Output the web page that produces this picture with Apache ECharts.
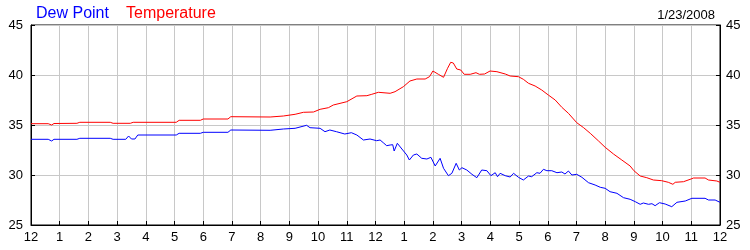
<!DOCTYPE html>
<html>
<head>
<meta charset="utf-8">
<script src="https://cdn.jsdelivr.net/npm/echarts@6/dist/echarts.min.js"></script>
<style>
html,body{margin:0;padding:0;background:#fff;}
#c{width:750px;height:250px;}
</style>
</head>
<body>
<div id="c"></div>
<script>
const hourLabels = ['12','1','2','3','4','5','6','7','8','9','10','11','12','1','2','3','4','5','6','7','8','9','10','11','12'];
const yTicks = [25, 30, 35, 40, 45];

const tempHours = [0,0.6,0.66,0.72,0.8,1.6,1.7,2.76,2.86,3.46,3.56,5.06,5.16,5.9,6.0,6.86,6.96,8.33,8.79,9.2,9.49,9.84,10.07,10.36,10.53,11.0,11.35,11.7,11.87,12.1,12.51,12.68,12.97,13.2,13.44,13.73,13.88,14.0,14.19,14.37,14.51,14.62,14.71,14.83,14.97,15.09,15.3,15.5,15.62,15.8,15.99,16.23,16.52,16.69,16.98,17.15,17.33,17.56,17.79,18.02,18.26,18.49,18.72,19.01,19.25,19.48,19.77,20.0,20.29,20.58,20.87,21.0,21.22,21.45,21.68,21.97,22.2,22.36,22.44,22.73,22.99,23.08,23.48,23.6,23.89,24.0];
const tempValues = [35.13,35.13,35.05,35.0,35.15,35.17,35.27,35.27,35.17,35.17,35.27,35.27,35.47,35.47,35.6,35.6,35.83,35.8,35.9,36.07,36.27,36.3,36.57,36.73,37.0,37.33,37.9,37.93,38.07,38.27,38.17,38.33,38.83,39.4,39.6,39.6,39.83,40.4,40.07,39.77,40.67,41.27,41.2,40.6,40.5,40.07,40.07,40.23,40.07,40.1,40.4,40.33,40.1,39.9,39.83,39.57,39.17,38.9,38.5,38.0,37.5,36.77,36.17,35.23,34.73,34.17,33.4,32.77,32.1,31.5,30.9,30.43,29.9,29.73,29.5,29.43,29.27,29.07,29.27,29.33,29.6,29.7,29.7,29.5,29.4,29.27];

const dewHours = [0,0.6,0.72,0.8,1.6,1.7,2.76,2.86,3.3,3.4,3.5,3.62,3.72,5.06,5.16,5.9,6.0,6.86,6.96,8.33,8.79,9.2,9.26,9.6,9.72,10.07,10.24,10.41,10.64,10.93,11.16,11.35,11.58,11.81,12.04,12.16,12.27,12.39,12.51,12.6,12.65,12.76,12.92,13.09,13.18,13.32,13.44,13.61,13.79,13.93,14.08,14.25,14.37,14.54,14.66,14.81,14.92,15.01,15.18,15.36,15.53,15.7,15.88,16.02,16.17,16.25,16.34,16.52,16.69,16.81,16.98,17.15,17.33,17.44,17.62,17.73,17.85,17.97,18.14,18.32,18.49,18.6,18.72,18.84,19.01,19.19,19.42,19.65,19.83,20.0,20.17,20.41,20.64,20.87,21.05,21.22,21.33,21.51,21.63,21.74,21.89,22.09,22.32,22.5,22.79,23.02,23.48,23.6,23.83,24.0];
const dewValues = [33.57,33.57,33.4,33.57,33.57,33.67,33.67,33.57,33.57,33.9,33.6,33.6,34.0,34.0,34.17,34.17,34.27,34.27,34.5,34.47,34.6,34.67,34.83,34.97,34.73,34.67,34.33,34.5,34.33,34.1,34.23,34.0,33.5,33.6,33.43,33.5,33.23,32.93,33.0,33.03,32.4,33.17,32.6,32.0,31.5,32.0,32.1,31.67,31.6,31.77,30.9,31.67,30.67,29.93,30.17,31.17,30.5,30.73,30.5,30.07,29.73,30.5,30.43,29.93,30.23,29.83,30.17,29.93,29.8,30.17,29.77,29.5,29.9,29.83,30.23,30.17,30.57,30.43,30.43,30.23,30.3,30.1,30.4,30.0,30.07,29.77,29.23,29.0,28.77,28.67,28.33,28.17,27.73,27.57,27.33,27.07,27.2,27.07,27.13,26.93,27.23,27.1,26.83,27.27,27.4,27.67,27.67,27.5,27.5,27.27];

const seriesNames = ['Dew Point', 'Temperature'];
const dateText = '1/23/2008';

const FONT = '"Liberation Sans", Arial, sans-serif';
const zip = (xs, ys) => xs.map((x, i) => [x, ys[i]]);

const chart = echarts.init(document.getElementById('c'), null, {renderer: 'canvas'});
const yAxisBase = {
  type: 'value', min: yTicks[0], max: yTicks[yTicks.length - 1], interval: 5,
  axisLine: {show: true, lineStyle: {color: '#000', width: 1}},
  axisTick: {show: true, inside: true, length: 4, lineStyle: {color: '#000'}},
  axisLabel: {color: '#000', fontFamily: FONT, fontSize: 13}
};
chart.setOption({
  animation: false,
  backgroundColor: '#fff',
  title: [
    {text: seriesNames[0], left: 31, top: 1, textStyle: {color: '#0000ff', fontFamily: FONT, fontSize: 16, fontWeight: 'normal'}},
    {text: seriesNames[1], left: 121, top: 1, textStyle: {color: '#ff0000', fontFamily: FONT, fontSize: 16, fontWeight: 'normal'}},
    {text: dateText, right: 30, top: 4, textStyle: {color: '#000', fontFamily: FONT, fontSize: 13, fontWeight: 'normal'}}
  ],
  grid: {left: 31, right: 30, top: 25, bottom: 25, show: true, borderColor: '#000', borderWidth: 1, containLabel: false},
  xAxis: {
    type: 'value', min: 0, max: 24, interval: 1,
    axisLine: {show: true, onZero: false, lineStyle: {color: '#000'}},
    axisTick: {show: true, inside: true, length: 4, lineStyle: {color: '#000'}},
    axisLabel: {color: '#000', fontFamily: FONT, fontSize: 13, margin: 6, showMinLabel: true, showMaxLabel: true,
      formatter: v => hourLabels[Math.round(v)]},
    splitLine: {show: true, lineStyle: {color: '#c8c8c8', width: 1}}
  },
  yAxis: [
    Object.assign({}, yAxisBase, {position: 'left', axisLabel: Object.assign({}, yAxisBase.axisLabel, {margin: 8}),
      splitLine: {show: true, lineStyle: {color: '#c8c8c8', width: 1}}}),
    Object.assign({}, yAxisBase, {position: 'right', axisLabel: Object.assign({}, yAxisBase.axisLabel, {margin: 6}),
      splitLine: {show: false}})
  ],
  series: [
    {name: seriesNames[0], type: 'line', data: zip(dewHours, dewValues), showSymbol: false, symbol: 'none',
      lineStyle: {color: '#0000ff', width: 1}, itemStyle: {color: '#0000ff'}, z: 3},
    {name: seriesNames[1], type: 'line', data: zip(tempHours, tempValues), showSymbol: false, symbol: 'none',
      lineStyle: {color: '#ff0000', width: 1}, itemStyle: {color: '#ff0000'}, z: 3}
  ]
});
</script>
</body>
</html>
